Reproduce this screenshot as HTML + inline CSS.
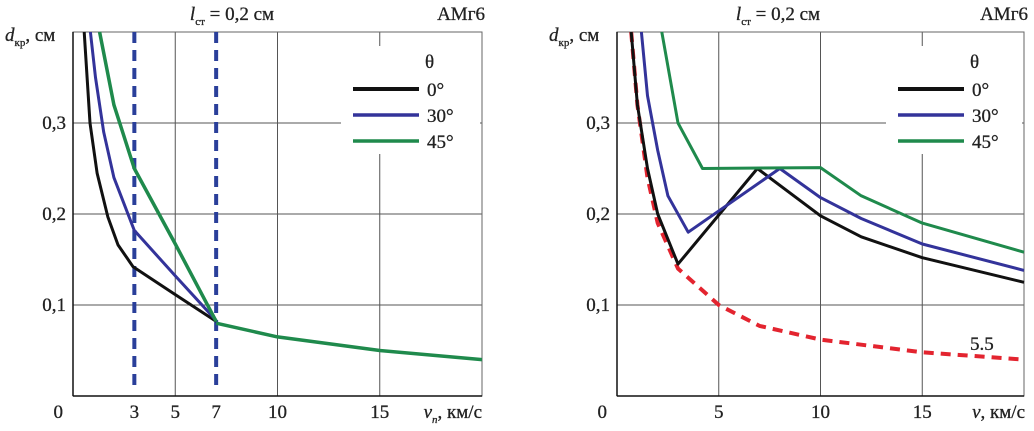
<!DOCTYPE html>
<html><head><meta charset="utf-8"><style>
body{margin:0;background:#fff}
svg text{font-family:"Liberation Serif","DejaVu Serif",serif;fill:#222;stroke:#222;stroke-width:0.3}
</style></head><body>
<svg id="s" width="1034" height="426"></svg>
<script>
const xTicks=[5,10,15];
const leftExtraTicks=[3,7];
const yTicks=[0.1,0.2,0.3];
const yTickLabels=["0,1","0,2","0,3"];
const legendLabels=["0°","30°","45°"];
const colors=["#111","#33339a","#1f8a4c"];
// left chart series [v, d]
const leftBlack=[[0.55,0.4],[0.83,0.3],[1.18,0.245],[1.7,0.197],[2.2,0.166],[2.94,0.142],[4.9,0.113],[7,0.082]];
const leftBlue=[[0.85,0.4],[1.1,0.35],[1.5,0.29],[2,0.24],[3,0.182],[5,0.132],[7,0.083]];
const leftGreen=[[1.3,0.4],[2,0.32],[3,0.25],[5,0.167],[7,0.082]];
const leftCommon=[[7,0.08],[10,0.065],[15,0.05],[20,0.04]];
const leftDashedV=[3,7];
// right chart series
const rightBlack=[[0.7,0.4],[1,0.32],[1.5,0.25],[2,0.2],[3,0.145],[6.9,0.25],[10,0.198],[12,0.175],[15,0.152],[20,0.125]];
const rightBlue=[[1.2,0.4],[1.5,0.33],[2,0.27],[2.5,0.22],[3.5,0.18],[8,0.25],[10,0.218],[12,0.195],[15,0.167],[20,0.138]];
const rightGreen=[[2.2,0.4],[3,0.3],[4.2,0.25],[10,0.251],[12,0.22],[15,0.19],[20,0.158]];
const rightRed=[[0.7,0.4],[1,0.32],[1.5,0.24],[2,0.19],[3,0.14],[5,0.1],[7,0.077],[10,0.062],[15,0.048],[20,0.04]];

const S=document.getElementById('s');const NS="http://www.w3.org/2000/svg";
function mk(t,a,txt){const e=document.createElementNS(NS,t);for(const k in a)e.setAttribute(k,a[k]);if(txt!=null)e.textContent=txt;S.appendChild(e);return e;}
function chart(x0,xr,name,legX){
 const X=v=>x0+(xr-x0)*v/20, Y=d=>396-910*d;
 const top=Y(0.4);
 for(let i=0;i<xTicks.length;i++){const g=mk('line',{x1:X(xTicks[i]),x2:X(xTicks[i]),y1:top,y2:396,stroke:'#555','stroke-width':1});
  
  const t=mk('text',{x:X(xTicks[i]),y:418,'font-size':19,'text-anchor':'middle'},xTicks[i]);
  }
 for(let i=0;i<yTicks.length;i++){const g=mk('line',{x1:x0,x2:xr,y1:Y(yTicks[i]),y2:Y(yTicks[i]),stroke:'#555','stroke-width':1});
  
  const t=mk('text',{x:x0-7,y:Y(yTicks[i])+6,'font-size':19,'text-anchor':'end'},yTickLabels[i]);
  }
 const b=mk('rect',{x:x0,y:top,width:xr-x0,height:396-top,fill:'none',stroke:'#666','stroke-width':1});
 
 mk('line',{x1:x0,x2:x0,y1:top,y2:396,stroke:'#111','stroke-width':1.5});
 mk('line',{x1:x0,x2:xr,y1:396,y2:396,stroke:'#111','stroke-width':1.5});
 const z=mk('text',{x:x0-10,y:418,'font-size':19,'text-anchor':'end'},'0');
 
 const lb=mk('rect',{x:legX-12,y:46,width:xr-legX+10,height:108,fill:'#fff'});
 
 return {X,Y};
}
function line(ax,pts,col,w,name,dash){
 const d=pts.map((p,i)=>(i?'L':'M')+ax.X(p[0]).toFixed(1)+','+ax.Y(p[1]).toFixed(1)).join('');
 const a={d,fill:'none',stroke:col,'stroke-width':w,'stroke-linejoin':'round'};if(dash)a['stroke-dasharray']=dash;
 const e=mk('path',a);return e;
}
function legend(x,name){
 const th=mk('text',{x:x+72,y:68,'font-size':19},'θ');
 for(let i=0;i<3;i++){const y=89+26*i;
  const l=mk('line',{x1:x,x2:x+66,y1:y,y2:y,stroke:colors[i],'stroke-width':i==0?4:3.5});
  
  const t=mk('text',{x:x+74,y:y+7,'font-size':19},legendLabels[i]);
  }
}
function titles(cx,rx,x0,name,xl){
 const t=mk('text',{x:cx,y:20,'font-size':19,'text-anchor':'middle'});t.innerHTML='<tspan font-style="italic">l</tspan><tspan font-size="11" dy="5">ст</tspan><tspan dy="-5"> = 0,2 см</tspan>';
 
 const m=mk('text',{x:rx,y:20,'font-size':19,'text-anchor':'end'},'АМг6');
 const y=mk('text',{x:x0-68,y:41,'font-size':19});y.innerHTML='<tspan font-style="italic">d</tspan><tspan font-size="11" dy="5">кр</tspan><tspan dy="-5">, см</tspan>';
 
 const x=mk('text',{x:rx-3,y:418,'font-size':19,'text-anchor':'end'});x.innerHTML=xl;
 
}
// left
const A=chart(73,482,'left',353);
for(const v of leftExtraTicks){const t=mk('text',{x:A.X(v),y:418,'font-size':19,'text-anchor':'middle'},v);
 }
for(const v of leftDashedV){const e=mk('line',{x1:A.X(v),x2:A.X(v),y1:A.Y(0.4),y2:A.Y(0.006),stroke:'#2a3f9a','stroke-width':4,'stroke-dasharray':'11,7'});
 }
line(A,leftBlack,colors[0],3,'left-series-0deg');
line(A,leftBlue,colors[1],3,'left-series-30deg');
line(A,leftGreen,colors[2],3.5,'left-series-45deg');
line(A,leftCommon,colors[2],3.5,'left-series-common');
legend(353,'left');
titles(232,485,73,'left','<tspan font-style="italic">v</tspan><tspan font-size="11" dy="5" font-style="italic">n</tspan><tspan dy="-5">, км/с</tspan>');
// right
const B=chart(617,1024,'right',898);
line(B,rightRed,'#e3242f',4,'right-series-5.5','10,7');
line(B,rightBlack,colors[0],3,'right-series-0deg');
line(B,rightBlue,colors[1],3,'right-series-30deg');
line(B,rightGreen,colors[2],3,'right-series-45deg');
legend(898,'right');
titles(778,1028,617,'right','<tspan font-style="italic">v</tspan>, км/с');
const r=mk('text',{x:970,y:350,'font-size':19},'5.5');
</script>
</body></html>
